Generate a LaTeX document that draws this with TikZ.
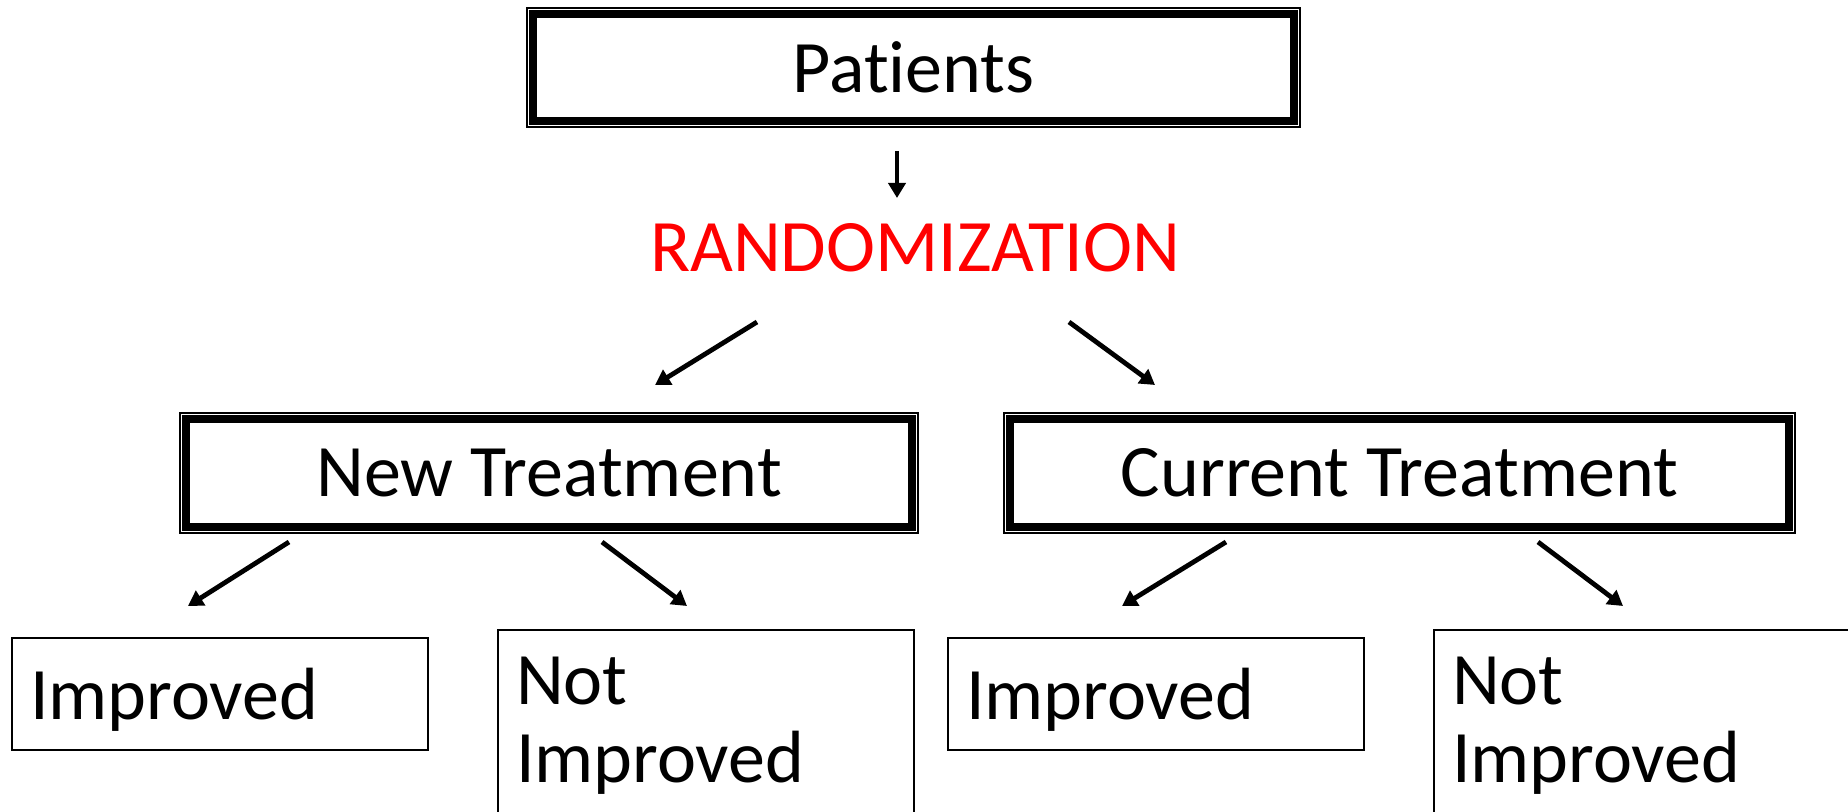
\documentclass[tikz,border=0pt]{standalone}
\usepackage{fontspec}
\setmainfont{Carlito}[Ligatures=NoCommon]
\usetikzlibrary{arrows.meta}
\begin{document}
\begin{tikzpicture}[x=0.5pt,y=-0.5pt,
  txt/.style={font=\fontsize{37}{39}\selectfont, inner sep=0pt},
  dbox/.style={draw, line width=1pt, txt},
  sbox/.style={draw, line width=1pt, font=\fontsize{37}{39}\selectfont, align=left, inner xsep=9pt},
  arr/.style={line width=2.4pt, -{Triangle[length=7.5pt,width=8.5pt]}}]
\useasboundingbox (0,0) rectangle (1848,812);
\fill[white] (0,0) rectangle (1848,812);

% double-framed boxes
\node[dbox, minimum width=386.5pt, minimum height=59.5pt] (pat) at (913.5,67.5) {Patients};
\draw[line width=3.75pt] ([shift={(7,7)}]pat.north west) rectangle ([shift={(-7,-7)}]pat.south east);

\node[txt, text=red] (rand) at (915,248) {RANDOMIZATION};

\node[dbox, minimum width=369pt, minimum height=60pt] (newt) at (549,473) {New Treatment};
\draw[line width=3.75pt] ([shift={(7,7)}]newt.north west) rectangle ([shift={(-7,-7)}]newt.south east);

\node[dbox, minimum width=395.5pt, minimum height=60pt] (curt) at (1399.5,473) {Current Treatment};
\draw[line width=3.75pt] ([shift={(7,7)}]curt.north west) rectangle ([shift={(-7,-7)}]curt.south east);

% outcome boxes
\node[sbox, text width=190pt, minimum height=56pt, text depth=0pt] (imp1) at (220,694) {Improved};
\node[sbox, text width=190pt, inner ysep=13.5pt, anchor=north west] (nimp1) at (497,629) {Not\\Improved};
\node[sbox, text width=190pt, minimum height=56pt, text depth=0pt] (imp2) at (1156,694) {Improved};
\node[sbox, text width=190pt, inner ysep=13.5pt, anchor=north west] (nimp2) at (1433,629) {Not\\Improved};

% arrow end points
\coordinate (a0s) at (897,151); \coordinate (a0e) at (897,198);
\coordinate (a1s) at (757,322); \coordinate (a1e) at (655,385);
\coordinate (a2s) at (1069,322); \coordinate (a2e) at (1155,385);
\coordinate (b1s) at (289,542); \coordinate (b1e) at (188,606);
\coordinate (b2s) at (602,542); \coordinate (b2e) at (687,606);
\coordinate (c1s) at (1226,542); \coordinate (c1e) at (1122,606);
\coordinate (c2s) at (1538,542); \coordinate (c2e) at (1623,606);

\draw[arr] (a0s) -- (a0e);
\draw[arr] (a1s) -- (a1e);
\draw[arr] (a2s) -- (a2e);
\draw[arr] (b1s) -- (b1e);
\draw[arr] (b2s) -- (b2e);
\draw[arr] (c1s) -- (c1e);
\draw[arr] (c2s) -- (c2e);
\end{tikzpicture}
\end{document}
